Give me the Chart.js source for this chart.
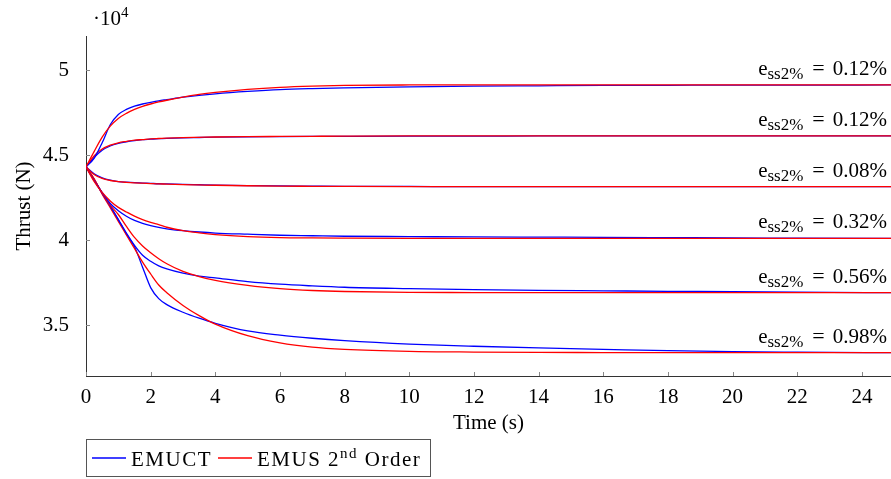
<!DOCTYPE html>
<html>
<head>
<meta charset="utf-8">
<script src="https://cdn.jsdelivr.net/npm/chart.js@4.4.1/dist/chart.umd.min.js"></script>
<style>
  html, body { margin: 0; padding: 0; background: #fff; }
</style>
</head>
<body>
<canvas id="thrustChart" width="891" height="479"></canvas>
<script>
// thrust step responses, values in 10^4 N

const time = [0, 0.25, 0.5, 0.75, 1, 1.25, 1.5, 1.75, 2, 2.25, 2.5, 3, 3.5, 4, 5, 6, 7, 8, 10, 12, 14, 16, 18, 20, 22, 25];

const emuct1 = [4.43, 4.48, 4.572, 4.678, 4.738, 4.768, 4.787, 4.80, 4.81, 4.819, 4.826, 4.84, 4.851, 4.86, 4.874, 4.885, 4.891, 4.895, 4.901, 4.905, 4.907, 4.909, 4.91, 4.911, 4.911, 4.912];
const emus1 = [4.43, 4.52, 4.605, 4.67, 4.715, 4.745, 4.768, 4.786, 4.80, 4.812, 4.822, 4.84, 4.856, 4.868, 4.886, 4.898, 4.905, 4.909, 4.912, 4.913, 4.913, 4.913, 4.913, 4.913, 4.913, 4.913];

const emuct2 = [4.43, 4.485, 4.528, 4.553, 4.568, 4.578, 4.585, 4.59, 4.593, 4.596, 4.598, 4.601, 4.603, 4.605, 4.607, 4.608, 4.609, 4.61, 4.611, 4.611, 4.612, 4.612, 4.612, 4.612, 4.612, 4.612];
const emus2 = [4.43, 4.495, 4.535, 4.558, 4.572, 4.58, 4.587, 4.591, 4.595, 4.597, 4.599, 4.602, 4.604, 4.606, 4.608, 4.609, 4.61, 4.611, 4.612, 4.612, 4.612, 4.612, 4.612, 4.612, 4.612, 4.612];

const emuct3 = [4.43, 4.39, 4.366, 4.352, 4.344, 4.34, 4.337, 4.335, 4.333, 4.331, 4.33, 4.327, 4.325, 4.323, 4.32, 4.318, 4.317, 4.316, 4.315, 4.314, 4.314, 4.314, 4.314, 4.314, 4.314, 4.314];
const emus3 = [4.43, 4.385, 4.362, 4.35, 4.343, 4.339, 4.336, 4.334, 4.332, 4.33, 4.329, 4.326, 4.324, 4.322, 4.319, 4.317, 4.316, 4.315, 4.314, 4.314, 4.314, 4.314, 4.314, 4.314, 4.314, 4.314];

const emuct4 = [4.43, 4.35, 4.28, 4.215, 4.172, 4.14, 4.115, 4.098, 4.085, 4.074, 4.066, 4.055, 4.047, 4.041, 4.034, 4.028, 4.025, 4.022, 4.02, 4.018, 4.017, 4.016, 4.014, 4.012, 4.011, 4.01];
const emus4 = [4.43, 4.345, 4.28, 4.23, 4.192, 4.165, 4.14, 4.12, 4.104, 4.09, 4.075, 4.055, 4.042, 4.032, 4.02, 4.014, 4.012, 4.011, 4.01, 4.01, 4.01, 4.01, 4.01, 4.01, 4.01, 4.01];

const emuct5 = [4.43, 4.355, 4.275, 4.2, 4.12, 4.04, 3.968, 3.91, 3.875, 3.848, 3.83, 3.805, 3.788, 3.777, 3.755, 3.74, 3.73, 3.722, 3.714, 3.708, 3.704, 3.701, 3.698, 3.696, 3.693, 3.69];
const emus5 = [4.43, 4.36, 4.275, 4.205, 4.15, 4.08, 4.015, 3.965, 3.925, 3.89, 3.86, 3.815, 3.785, 3.762, 3.733, 3.714, 3.703, 3.697, 3.692, 3.691, 3.69, 3.69, 3.69, 3.69, 3.69, 3.69];

const emuct6 = [4.43, 4.355, 4.275, 4.2, 4.12, 4.035, 3.96, 3.84, 3.72, 3.655, 3.62, 3.575, 3.54, 3.51, 3.465, 3.44, 3.422, 3.408, 3.388, 3.375, 3.365, 3.357, 3.349, 3.343, 3.34, 3.337];
const emus6 = [4.43, 4.36, 4.27, 4.19, 4.11, 4.03, 3.95, 3.87, 3.80, 3.735, 3.69, 3.615, 3.555, 3.505, 3.437, 3.395, 3.37, 3.357, 3.345, 3.341, 3.339, 3.338, 3.337, 3.337, 3.337, 3.337];

const essLabels = ['0.12%', '0.12%', '0.08%', '0.32%', '0.56%', '0.98%'];

const xTicks = [0, 2, 4, 6, 8, 10, 12, 14, 16, 18, 20, 22, 24];
const yTicks = [3.5, 4, 4.5, 5];

const FONT = '"Liberation Serif", "DejaVu Serif", serif';
const BLUE = '#0000ff';
const RED = '#ff0000';

const emuctAll = [emuct1, emuct2, emuct3, emuct4, emuct5, emuct6];
const emusAll = [emus1, emus2, emus3, emus4, emus5, emus6];

function toPoints(values) {
    return values.map((v, i) => ({ x: time[i], y: v }));
}

// red first so it ends up on top
const datasets = [];
emusAll.forEach((vals, i) => {
    datasets.push({ label: 'EMUS 2nd Order', data: toPoints(vals), borderColor: RED });
    datasets.push({ label: 'EMUCT', data: toPoints(emuctAll[i]), borderColor: BLUE });
});

// draws text pieces with sub/superscripts, left to right
function drawParts(ctx, x, y, parts, spacing) {
    let cx = x;
    ctx.letterSpacing = (spacing || 0) + 'px';
    parts.forEach(p => {
        cx += p.gap || 0;
        ctx.font = p.size + 'px ' + FONT;
        ctx.fillText(p.text, cx, y + (p.dy || 0));
        cx += ctx.measureText(p.text).width;
    });
    ctx.letterSpacing = '0px';
    return cx;
}

function partsWidth(ctx, parts) {
    let w = 0;
    parts.forEach(p => {
        ctx.font = p.size + 'px ' + FONT;
        w += (p.gap || 0) + ctx.measureText(p.text).width;
    });
    return w;
}

const extras = {
    id: 'extras',
    afterDatasetsDraw(chart) {
        const ctx = chart.ctx;
        const area = chart.chartArea;
        const xs = chart.scales.x;
        const ys = chart.scales.y;
        ctx.save();

        // small inward tick marks
        ctx.strokeStyle = '#888';
        ctx.lineWidth = 1;
        xs.ticks.forEach(t => {
            const px = Math.round(xs.getPixelForValue(t.value)) + 0.5;
            ctx.beginPath();
            ctx.moveTo(px, area.bottom);
            ctx.lineTo(px, area.bottom - 4);
            ctx.stroke();
        });
        ys.ticks.forEach(t => {
            const py = Math.round(ys.getPixelForValue(t.value)) + 0.5;
            ctx.beginPath();
            ctx.moveTo(area.left, py);
            ctx.lineTo(area.left + 4, py);
            ctx.stroke();
        });

        ctx.fillStyle = '#000';
        ctx.textBaseline = 'alphabetic';
        ctx.textAlign = 'left';

        // steady state error labels
        const right = xs.getPixelForValue(xs.max) - 4;
        emusAll.forEach((vals, i) => {
            const py = ys.getPixelForValue(vals[vals.length - 1]) - 10;
            const parts = [
                { text: 'e', size: 21 },
                { text: 'ss2%', size: 17, dy: 4 },
                { text: '=', size: 22, gap: 9 },
                { text: essLabels[i], size: 21, gap: 8 }
            ];
            drawParts(ctx, right - partsWidth(ctx, parts), py, parts);
        });

        // axis multiplier
        drawParts(ctx, 93, 25, [
            { text: '\u00b710', size: 21 },
            { text: '4', size: 15, dy: -8 }
        ]);

        // legend
        ctx.strokeStyle = '#555';
        ctx.strokeRect(86.5, 439.5, 344, 37);
        ctx.lineWidth = 1.3;
        ctx.strokeStyle = BLUE;
        ctx.beginPath(); ctx.moveTo(92, 458); ctx.lineTo(126, 458); ctx.stroke();
        ctx.strokeStyle = RED;
        ctx.beginPath(); ctx.moveTo(218, 458); ctx.lineTo(252, 458); ctx.stroke();
        drawParts(ctx, 131, 466, [{ text: 'EMUCT', size: 21 }], 1.5);
        drawParts(ctx, 257, 466, [
            { text: 'EMUS 2', size: 21 },
            { text: 'nd', size: 15, dy: -8 },
            { text: ' Order', size: 21 }
        ], 1.5);

        ctx.restore();
    }
};

const ctx = document.getElementById('thrustChart').getContext('2d');

new Chart(ctx, {
    type: 'line',
    data: { datasets: datasets },
    options: {
        responsive: false,
        animation: false,
        layout: { padding: { top: 36, right: 0, bottom: 43, left: 0 } },
        elements: {
            point: { radius: 0 },
            line: { borderWidth: 1.3, cubicInterpolationMode: 'monotone', fill: false }
        },
        plugins: {
            legend: { display: false },
            tooltip: { enabled: false }
        },
        scales: {
            x: {
                type: 'linear',
                min: 0,
                max: 24.9,
                grid: { display: false },
                border: { display: true, color: '#333', width: 1 },
                afterBuildTicks(scale) { scale.ticks = xTicks.map(v => ({ value: v })); },
                ticks: {
                    color: '#000',
                    padding: 1,
                    font: { family: FONT, size: 21 },
                    callback: v => String(v)
                },
                title: {
                    display: true,
                    text: 'Time (s)',
                    color: '#000',
                    font: { family: FONT, size: 21 },
                    padding: { top: 0, bottom: 0 }
                },
                afterFit(scale) { scale.height = 60; }
            },
            y: {
                min: 3.2,
                max: 5.2,
                grid: { display: false },
                border: { display: true, color: '#333', width: 1 },
                afterBuildTicks(scale) { scale.ticks = yTicks.map(v => ({ value: v })); },
                ticks: {
                    color: '#000',
                    padding: 9,
                    font: { family: FONT, size: 21 },
                    callback: v => String(v)
                },
                title: {
                    display: true,
                    text: 'Thrust (N)',
                    color: '#000',
                    font: { family: FONT, size: 21 },
                    padding: { top: 12, bottom: 0 }
                },
                afterFit(scale) { scale.width = 86; }
            }
        }
    },
    plugins: [extras]
});
</script>
</body>
</html>
